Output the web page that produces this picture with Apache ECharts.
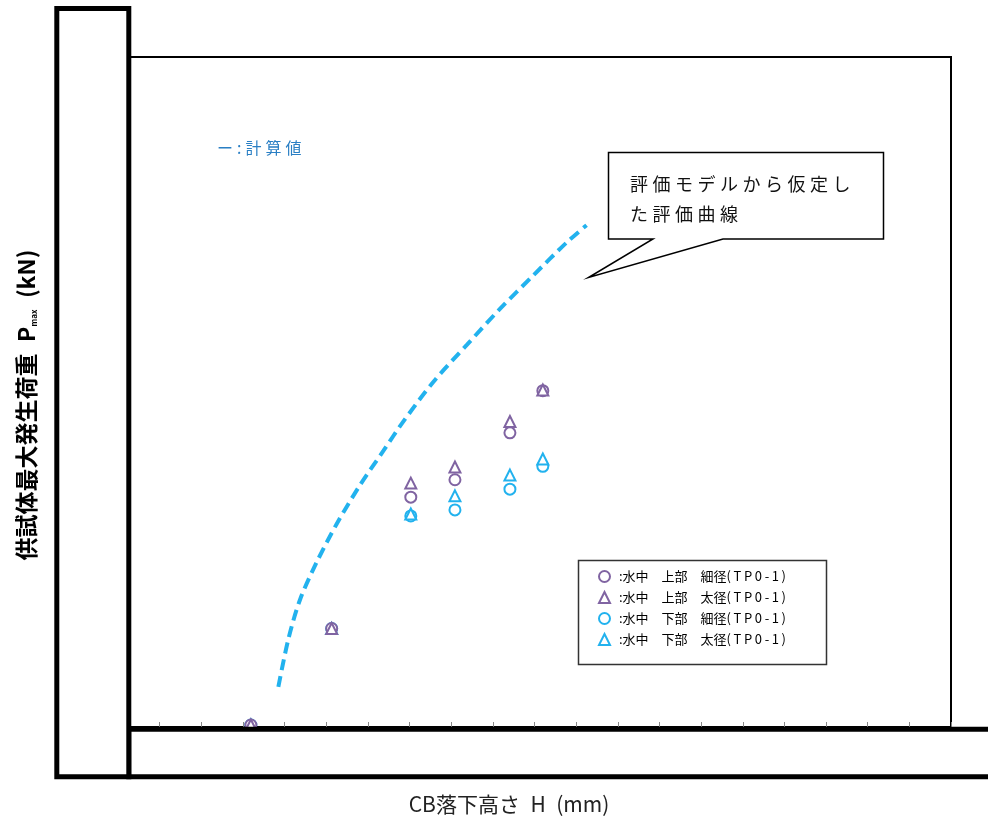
<!DOCTYPE html>
<html>
<head>
<meta charset="utf-8">
<script src="https://cdn.jsdelivr.net/npm/echarts@6/dist/echarts.min.js"></script>
<style>
html,body{margin:0;padding:0;background:#fff;}
#chart{width:988px;height:820px;}
</style>
</head>
<body>
<div id="chart"></div>
<script>
// Drop height H (axis units; tick labels are masked in the original)
const dropHeights = [31.9, 51.3, 70.3, 80.9, 94.1, 102];
// Max load P (axis units)
const upperThin  = [0.3, 14.7, 34.3, 36.9, 43.9, 50.2];
const upperThick = [0.3, 14.7, 36.4, 38.8, 45.6, 50.3];
const lowerThin  = [0.3, 14.7, 31.5, 32.4, 35.5, 38.9];
const lowerThick = [0.3, 14.7, 31.8, 34.5, 37.6, 40.0];
// Calculated evaluation curve
const curveH = [38.5, 40.9, 43.7, 47.7, 52.5, 58.1, 63.7, 68.4, 75.7, 83.7, 91.7, 99.7, 107.7, 112.5];
const curveP = [6.0, 13.1, 19.0, 24.6, 30.3, 36.1, 41.2, 45.5, 51.5, 57.0, 62.4, 67.4, 72.3, 74.9];

const seriesNames = [
  '水中　上部　細径(TP0-1)',
  '水中　上部　太径(TP0-1)',
  '水中　下部　細径(TP0-1)',
  '水中　下部　太径(TP0-1)'
];

const PURPLE = '#8064a2';
const CYAN = '#22b2ee';
const FONT = '"Noto Sans CJK JP", "Noto Sans", sans-serif';

function pairs(xs, ys){ return xs.map((x,i)=>[x, ys[i]]); }

const chart = echarts.init(document.getElementById('chart'));

function scatter(name, data, symbol, color){
  return {
    name: name, type: 'scatter', data: pairs(dropHeights, data),
    symbol: symbol, symbolSize: 11,
    itemStyle: { color: color, borderWidth: 1.6, opacity: 1 },
    z: 3
  };
}

const option = {
  animation: false,
  backgroundColor: '#fff',
  textStyle: { fontFamily: FONT },
  grid: { left: 118, right: 37, top: 57, bottom: 93, show: true, borderColor: '#000', borderWidth: 2, backgroundColor: 'transparent' },
  xAxis: {
    type: 'value', min: 0, max: 200, interval: 10,
    axisLine: { show: true, lineStyle: { color: '#000', width: 1 } },
    axisTick: { show: true, inside: true, length: 5, lineStyle: { color: '#888', width: 1 } },
    axisLabel: { show: false },
    splitLine: { show: false }
  },
  yAxis: {
    type: 'value', min: 0, max: 100, interval: 10,
    axisLine: { show: false },
    axisTick: { show: false },
    axisLabel: { show: false },
    splitLine: { show: false }
  },
  legend: {
    orient: 'vertical', left: 598, top: 570, padding: 0,
    data: seriesNames,
    itemWidth: 11, itemHeight: 11, itemGap: 8,
    formatter: n => ':' + n.replace('(TP0-1)', '(\u2009T\u2009P\u20090\u2009-\u20091\u2009)'),
    textStyle: { fontSize: 13, color: '#000', fontFamily: FONT, padding: [0,0,0,4] },
    z: 20
  },
  series: [
    {
      name: 'calc', type: 'line', data: pairs(curveH, curveP),
      smooth: 0.3, showSymbol: false, symbol: 'none',
      lineStyle: { color: CYAN, width: 4, type: [11, 6] },
      z: 2
    },
    scatter(seriesNames[2], lowerThin, 'emptyCircle', CYAN),
    scatter(seriesNames[3], lowerThick, 'emptyTriangle', CYAN),
    scatter(seriesNames[0], upperThin, 'emptyCircle', PURPLE),
    scatter(seriesNames[1], upperThick, 'emptyTriangle', PURPLE)
  ],
  graphic: [
    // legend frame
    { type: 'rect', z: 1, shape: { x: 578.5, y: 560.5, width: 248, height: 104 },
      style: { fill: '#fff', stroke: '#333', lineWidth: 1.5 } },
    // masking frames
    { type: 'rect', z: 100, shape: { x: 128.8, y: 729.2, width: 900, height: 47.6 },
      style: { fill: '#fff', stroke: '#000', lineWidth: 5 } },
    { type: 'rect', z: 101, shape: { x: 56.8, y: 8.5, width: 72, height: 768.3 },
      style: { fill: '#fff', stroke: '#000', lineWidth: 5 } },
    // calculated value note
    { type: 'text', z: 50, x: 217, y: 148,
      style: { text: 'ー\u2005:\u2005計\u2005算\u2005値', fill: '#2a7fc4', font: '16px ' + FONT, textAlign: 'left', textVerticalAlign: 'middle' } },
    // callout
    { type: 'polygon', z: 50,
      shape: { points: [[608.5,152.5],[883.5,152.5],[883.5,239],[723,239],[588.5,277.5],[653,239],[608.5,239]] },
      style: { fill: '#fff', stroke: '#000', lineWidth: 1.5 } },
    { type: 'text', z: 51, x: 630, y: 184,
      style: { text: '評\u2005価\u2005モ\u2005デ\u2005ル\u2005か\u2005ら\u2005仮\u2005定\u2005し', fill: '#111', font: '18px ' + FONT, textAlign: 'left', textVerticalAlign: 'middle' } },
    { type: 'text', z: 51, x: 630, y: 214,
      style: { text: 'た\u2005評\u2005価\u2005曲\u2005線', fill: '#111', font: '18px ' + FONT, textAlign: 'left', textVerticalAlign: 'middle' } },
    // axis titles
    { type: 'text', z: 120, x: 509, y: 804,
      style: { text: 'CB落下高さ\u2002H\u2002(mm)', fill: '#222', font: '21px ' + FONT, textAlign: 'center', textVerticalAlign: 'middle' } },
    { type: 'text', z: 120, x: 26, y: 405, rotation: Math.PI / 2,
      style: {
        text: '{a|供試体最大発生荷重\u2002P}{s|max}{a|\u2002(kN)}',
        textAlign: 'center', textVerticalAlign: 'middle',
        rich: {
          a: { fontSize: 23, fontWeight: 'bold', color: '#222', fontFamily: FONT },
          s: { fontSize: 8, fontWeight: 'bold', color: '#222', fontFamily: FONT, verticalAlign: 'bottom', padding: [8,0,0,0] }
        }
      } }
  ]
};
chart.setOption(option);
</script>
</body>
</html>
